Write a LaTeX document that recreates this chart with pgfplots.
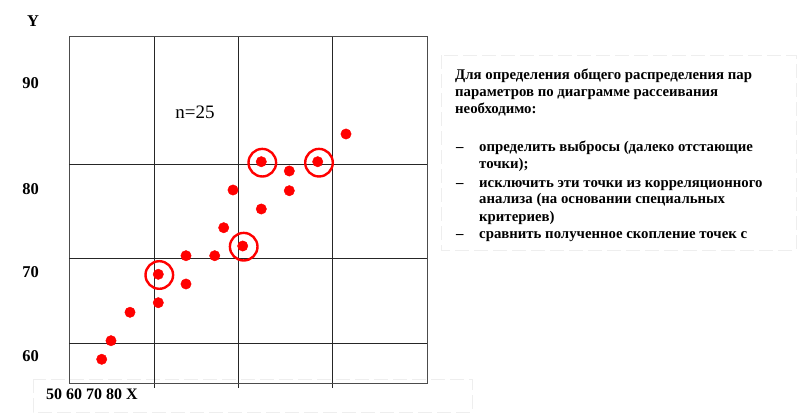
\documentclass[border=0pt]{standalone}
\usepackage{pgfplots}
\pgfplotsset{compat=1.18}
\usepackage{fontspec}
\setmainfont{Liberation Serif}
\begin{document}
\begin{tikzpicture}[x=1pt,y=1pt]
\useasboundingbox (0,0) rectangle (800,419);
% faint placeholder outlines
\draw[gray!13, line width=0.8pt, dash pattern=on 14pt off 5pt] (441,364) rectangle (796,169);
\draw[gray!13, line width=0.8pt, dash pattern=on 14pt off 5pt] (33,40) rectangle (472,7);
\begin{axis}[
  at={(69pt,36pt)}, anchor=south west,
  scale only axis, width=358pt, height=346.3pt,
  xmin=69, xmax=427, ymin=36, ymax=382.3,
  axis line style={black!70, line width=0.9pt},
  xtick={154,238,332}, xticklabels={},
  xtick pos=bottom, ytick pos=left,
  tick align=outside, major tick length=5pt,
  xmajorgrids,
  xtick style={black!85, line width=0.8pt},
  ytick={63,147,230,336}, yticklabels={60,70,80,90},
  ytick style={draw=none},
  yticklabel style={font=\fontsize{16.5}{18}\selectfont\bfseries, inner sep=0pt, xshift=-25pt},
  extra y ticks={76,161,255}, extra y tick labels={},
  extra y tick style={grid=major},
  grid style={black!85, line width=0.8pt},
  clip=false,
]
\addplot[only marks, mark=*, mark size=5.2pt, color=red] coordinates {
(101.7,59.7) (111,78.3) (130,106.7) (158.3,116.3) (158.3,144.7)
(186,135) (186,163.3) (214.7,163.3) (223.7,191.3) (233,229)
(242.7,173) (261.3,210) (261.3,257.3) (289.3,228.3) (289.3,248)
(317.7,257.3) (346,285)
};
\addplot[only marks, mark=o, mark size=13.8pt, mark options={draw=red, line width=2.4pt}] coordinates {
(159.3,144) (243.7,172.3) (262.3,256.3) (319,256.3)
};
\end{axis}
\node[inner sep=0pt, font=\fontsize{16.5}{18}\selectfont\bfseries] at (33,398) {Y};
\node[inner sep=0pt, font=\fontsize{19}{21}\selectfont] at (195,307) {n=25};
\node[inner sep=0pt, anchor=west, font=\fontsize{16}{18}\selectfont\bfseries] at (46,25) {50 60 70 80 X};
\begin{scope}[every node/.style={inner sep=0pt, anchor=base west, font=\fontsize{14.8}{17}\selectfont\bfseries}]
\node at (455,339.5) {Для определения общего распределения пар};
\node at (455,322.5) {параметров по диаграмме рассеивания};
\node at (455,305.5) {необходимо:};
\node at (456,267.5) {–};
\node at (479,267.5) {определить выбросы (далеко отстающие};
\node at (479,250.5) {точки);};
\node at (456,231.8) {–};
\node at (479,231.8) {исключить эти точки из корреляционного};
\node at (479,215.2) {анализа (на основании специальных};
\node at (479,197.8) {критериев)};
\node at (456,180.5) {–};
\node at (479,180.5) {сравнить полученное скопление точек с};
\end{scope}
\end{tikzpicture}
\end{document}
